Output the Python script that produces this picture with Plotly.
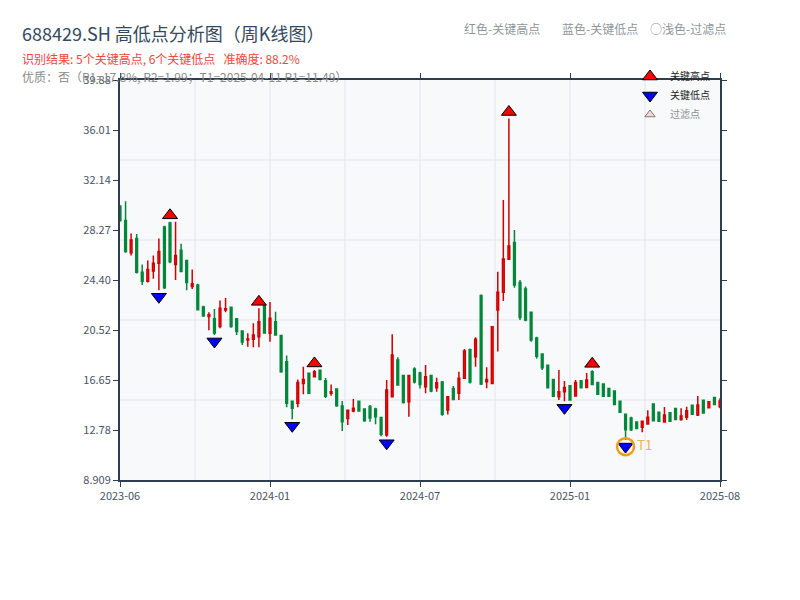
import numpy as np
import pandas as pd
import plotly.graph_objects as go

# ---------------- data ----------------
HOLIDAY_WEEKS = ["2023-10-06", "2024-02-16", "2024-10-04"]
_fridays = pd.date_range("2023-06-23", "2025-08-08", freq="W-FRI").strftime("%Y-%m-%d")
DATES = [d for d in _fridays if d not in HOLIDAY_WEEKS]

OPEN = [30.1, 29.0, 26.5, 27.6, 25.0, 24.3, 25.1, 25.7, 28.5, 28.8,
        25.6, 26.7, 25.9, 23.9, 24.0, 22.3, 21.56, 21.4, 20.8, 22.07,
        22.28, 21.4, 20.45, 19.75, 19.8, 20.0, 22.46, 20.27, 21.17, 20.1,
        18.07, 15.0, 14.85, 16.39, 17.17, 16.91, 17.4, 16.6, 15.62, 15.95,
        14.64, 13.68, 14.25, 15.0, 14.4, 14.6, 14.4, 13.75, 12.39, 15.36,
        18.2, 17.0, 14.97, 17.5, 17.2, 16.13, 17.0, 16.06, 16.5, 14.33,
        16.0, 15.62, 16.78, 19.0, 18.46, 23.2, 16.52, 16.39, 22.07, 23.44,
        26.0, 27.3, 24.2, 23.7, 21.9, 19.9, 18.66, 17.8, 16.7, 15.36,
        15.75, 16.2, 15.41, 16.6, 16.08, 17.3, 16.45, 16.35, 16.0, 15.8,
        15.0, 14.0, 13.7, 13.4, 12.99, 13.25, 14.8, 14.15, 13.4, 14.12,
        14.45, 13.6, 13.76, 14.7, 13.94, 15.08, 14.51, 15.3, 14.59]
HIGH = [30.2, 30.5, 28.0, 27.96, 25.6, 25.9, 26.3, 27.6, 28.6, 28.9,
        28.9, 27.2, 25.95, 25.2, 24.1, 22.4, 21.9, 22.15, 22.8, 23.0,
        22.3, 21.45, 20.5, 20.27, 21.04, 22.2, 22.54, 22.69, 21.94, 20.14,
        18.54, 15.03, 16.7, 17.68, 17.22, 17.43, 17.43, 16.8, 16.31, 16.0,
        15.03, 14.33, 15.18, 15.03, 14.46, 14.72, 14.51, 13.81, 16.65, 20.19,
        18.41, 17.04, 17.04, 17.63, 17.3, 17.81, 17.04, 16.83, 16.57, 15.41,
        16.19, 17.3, 19.05, 19.1, 19.96, 23.28, 17.63, 20.78, 25.04, 30.59,
        36.9, 28.27, 24.4, 23.9, 21.94, 20.0, 18.7, 17.81, 16.72, 17.43,
        16.57, 16.27, 16.65, 16.65, 17.2, 17.4, 16.47, 16.4, 16.01, 15.83,
        15.05, 14.05, 13.8, 13.45, 13.5, 14.3, 14.82, 14.2, 14.56, 14.15,
        14.46, 14.46, 14.59, 14.72, 15.41, 15.10, 15.03, 15.31, 15.23]
LOW = [28.9, 26.5, 26.3, 24.9, 24.0, 24.2, 24.5, 23.6, 23.7, 25.7,
       24.4, 25.0, 23.6, 23.7, 22.07, 21.56, 20.5, 20.14, 20.65, 21.9,
       20.7, 20.14, 19.36, 19.23, 19.18, 19.18, 20.27, 19.62, 20.08, 17.22,
       14.54, 13.61, 14.54, 15.54, 15.6, 16.86, 16.65, 15.25, 15.44, 14.59,
       12.70, 13.17, 14.15, 14.2, 13.42, 13.42, 13.22, 12.3, 12.26, 15.36,
       16.21, 14.84, 13.81, 16.39, 16.0, 15.62, 15.7, 15.75, 13.89, 13.99,
       15.1, 15.1, 16.78, 16.39, 17.68, 16.26, 16.01, 16.39, 18.85, 22.77,
       25.94, 23.8, 21.3, 21.2, 19.62, 18.3, 17.43, 16.0, 15.36, 15.1,
       15.0, 15.05, 15.36, 16.01, 16.08, 16.27, 15.49, 15.36, 15.36, 14.72,
       14.12, 12.0, 12.7, 12.85, 12.6, 13.2, 13.45, 13.4, 13.35, 13.43,
       13.55, 13.5, 13.55, 13.94, 13.86, 14.07, 14.46, 14.72, 14.46]
CLOSE = [29.0, 26.6, 27.5, 25.0, 24.3, 25.2, 25.7, 26.6, 23.8, 25.8,
         26.3, 25.05, 24.2, 24.1, 22.1, 21.6, 21.7, 20.3, 22.2, 22.17,
         20.8, 20.4, 19.6, 19.83, 20.14, 21.17, 20.3, 21.43, 20.14, 17.3,
         14.85, 14.46, 16.45, 16.7, 15.62, 17.3, 16.7, 15.4, 15.75, 14.65,
         13.42, 14.3, 14.46, 14.25, 13.5, 13.7, 13.8, 12.45, 15.88, 18.59,
         16.27, 14.9, 17.0, 16.5, 16.3, 16.91, 15.8, 16.44, 14.0, 15.36,
         15.15, 16.78, 18.9, 16.5, 19.8, 16.35, 16.7, 20.78, 23.44, 26.02,
         27.03, 24.0, 21.5, 21.3, 19.75, 18.5, 17.6, 16.05, 15.4, 15.75,
         16.08, 15.1, 16.45, 16.05, 16.65, 16.3, 15.55, 15.4, 15.4, 14.75,
         14.15, 12.8, 12.8, 12.9, 13.45, 13.76, 13.5, 13.45, 13.94, 13.45,
         13.6, 13.86, 14.28, 14.0, 14.72, 14.1, 14.97, 14.75, 15.03]

KEY_HIGH_IDX = [9, 25, 35, 70, 85]
KEY_LOW_IDX = [7, 17, 31, 48, 80, 91]
FILTERED_IDX = [2, 64]
T1_DATE = "2025-04-11"
T1_PRICE = 11.49

X_TICK_IDX = [0, 27, 54, 81, 108]
X_TICK_LABELS = ["2023-06", "2024-01", "2024-07", "2025-01", "2025-08"]
Y_MIN, Y_MAX = 8.909, 39.88
Y_TICK_LABELS = ["8.909", "12.78", "16.65", "20.52", "24.40", "28.27", "32.14", "36.01", "39.88"]

TITLE = "688429.SH 高低点分析图（周K线图）"
SUB1 = "识别结果: 5个关键高点, 6个关键低点\u00a0\u00a0\u00a0准确度: 88.2%"
SUB2 = "优质：否（R1=17.8%, R2=1.99；T1=2025-04-11 P1=11.49）"
NOTES = ["红色-关键高点", "蓝色-关键低点", "○浅色-过滤点"]

# ---------------- figure ----------------
FONT = "Noto Sans CJK SC, Noto Sans, sans-serif"
PLOT_L, PLOT_T, PLOT_W, PLOT_H = 120, 80, 600, 400   # plot area in page pixels
PAGE_OFF = 8                                          # default body margin of the html page
px_to_val = (Y_MAX - Y_MIN) / PLOT_H
mark_off = 6.5 * px_to_val

def xp(px):
    return (px - PLOT_L) / PLOT_W

def yp(py):
    return (PLOT_T + PLOT_H - py) / PLOT_H

fig = go.Figure()
fig.add_trace(go.Candlestick(
    x=DATES, open=OPEN, high=HIGH, low=LOW, close=CLOSE,
    increasing=dict(line=dict(color="#d10000", width=1.5), fillcolor="#f23c3c"),
    decreasing=dict(line=dict(color="#00873a", width=1.5), fillcolor="#00873a"),
    whiskerwidth=0, showlegend=False, name="K线",
))
fig.add_trace(go.Scatter(
    x=[DATES[i] for i in KEY_HIGH_IDX], y=[HIGH[i] + mark_off for i in KEY_HIGH_IDX],
    mode="markers", name="关键高点",
    marker=dict(symbol="triangle-up", size=13, color="#ff0000", line=dict(color="black", width=1)),
))
fig.add_trace(go.Scatter(
    x=[DATES[i] for i in KEY_LOW_IDX], y=[LOW[i] - mark_off for i in KEY_LOW_IDX],
    mode="markers", name="关键低点",
    marker=dict(symbol="triangle-down", size=13, color="#0000ff", line=dict(color="black", width=1)),
))
fig.add_trace(go.Scatter(
    x=[DATES[i] for i in FILTERED_IDX], y=[HIGH[i] + mark_off for i in FILTERED_IDX],
    mode="markers", name="过滤点", visible="legendonly",
    marker=dict(symbol="triangle-up", size=9, color="#ffb0b0", line=dict(color="black", width=1)),
))
fig.add_trace(go.Scatter(
    x=[T1_DATE], y=[T1_PRICE], mode="markers+text", text=["T1"],
    textposition="middle right", textfont=dict(color="#f5b041", size=13, family=FONT),
    marker=dict(symbol="circle-open", size=17, color="#f39c12", line=dict(width=2.5)),
    showlegend=False, name="T1",
))

shapes = []
for k in range(1, 8):
    shapes.append(dict(type="line", xref="paper", yref="paper", x0=k / 8, x1=k / 8, y0=0, y1=1,
                       line=dict(color="#e3e6eb", width=1), layer="below"))
for k in range(1, 5):
    shapes.append(dict(type="line", xref="paper", yref="paper", x0=0, x1=1, y0=k / 5, y1=k / 5,
                       line=dict(color="#e3e6eb", width=1), layer="below"))

annotations = [
    dict(text=TITLE, x=xp(20), y=yp(33), font=dict(size=18, color="#34495e")),
    dict(text=SUB1, x=xp(20), y=yp(58), font=dict(size=12, color="#f0473a")),
    dict(text=SUB2, x=xp(20), y=yp(76), font=dict(size=12, color="#8c8c8c")),
    dict(text=NOTES[0], x=xp(462), y=yp(28), font=dict(size=12, color="#8e969c")),
    dict(text=NOTES[1], x=xp(560), y=yp(28), font=dict(size=12, color="#8e969c")),
    dict(text=NOTES[2], x=xp(648), y=yp(28), font=dict(size=12, color="#8e969c")),
]
for a in annotations:
    a.update(xref="paper", yref="paper", xanchor="left", yanchor="middle", showarrow=False)
    a["font"]["family"] = FONT

y_ticks = list(np.linspace(Y_MIN, Y_MAX, len(Y_TICK_LABELS)))

fig.update_layout(
    width=800, height=600,
    margin=dict(l=PLOT_L - PAGE_OFF, r=800 - PLOT_L - PLOT_W + PAGE_OFF,
                t=PLOT_T - PAGE_OFF, b=600 - PLOT_T - PLOT_H + PAGE_OFF),
    paper_bgcolor="white", plot_bgcolor="#f7f9fb",
    font=dict(family=FONT, size=11, color="#4a5466"),
    shapes=shapes, annotations=annotations,
    boxgap=0.55,
    legend=dict(x=xp(630), y=yp(62), xanchor="left", yanchor="top",
                bgcolor="rgba(0,0,0,0)", font=dict(size=10, color="#222"),
                tracegroupgap=0),
    xaxis=dict(type="category", range=[0, len(DATES) - 1],
               tickvals=[DATES[i] for i in X_TICK_IDX], ticktext=X_TICK_LABELS,
               showgrid=False, showline=True, linecolor="#2c3e50", linewidth=2,
               mirror="ticks", ticks="outside", ticklen=5, tickcolor="#2c3e50",
               rangeslider=dict(visible=False), zeroline=False),
    yaxis=dict(range=[Y_MIN, Y_MAX], tickvals=y_ticks, ticktext=Y_TICK_LABELS,
               showgrid=False, showline=True, linecolor="#2c3e50", linewidth=2,
               mirror="ticks", ticks="outside", ticklen=5, tickcolor="#2c3e50",
               zeroline=False),
    hovermode=False,
)

fig.write_html("out.html")
